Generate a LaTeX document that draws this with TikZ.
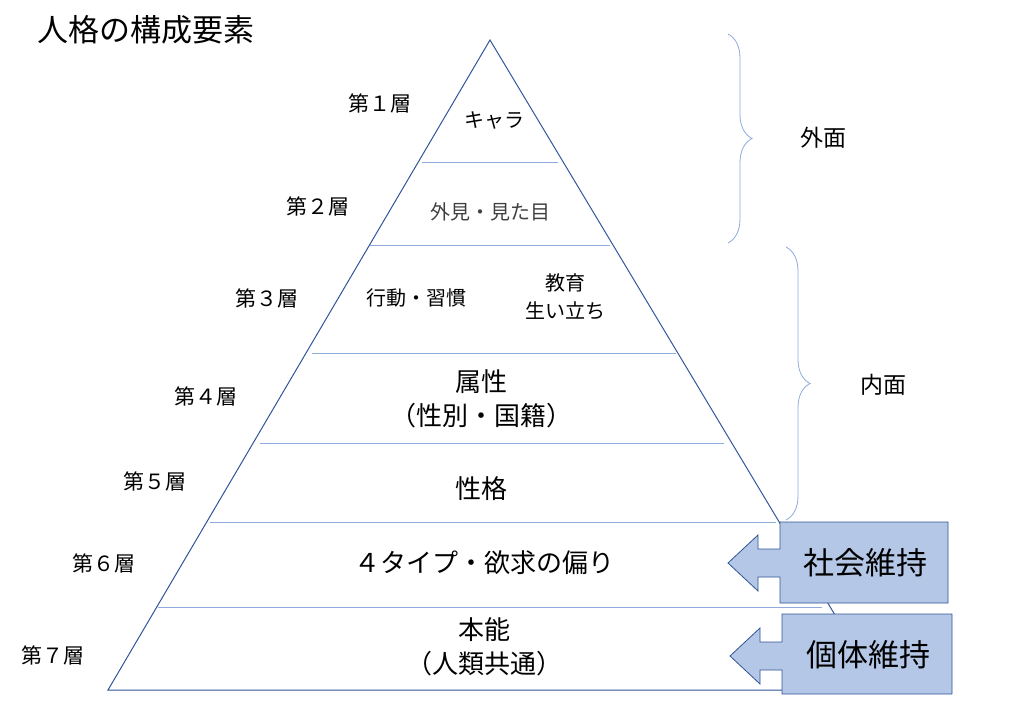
\documentclass[tikz,border=0pt]{standalone}
\usepackage{fontspec}
\setmainfont{Noto Sans CJK JP}
\usetikzlibrary{decorations.pathreplacing}
\definecolor{dk}{HTML}{2F5597}
\definecolor{lt}{HTML}{8FAADC}
\definecolor{fl}{HTML}{B4C7E7}
\tikzset{lay/.style={font=\fontsize{21}{26}\selectfont},
 lab/.style={font=\fontsize{20}{28}\selectfont,align=center},
 txt/.style={font=\fontsize{26}{34}\selectfont,align=center},
 sep/.style={draw=lt,line width=0.8pt},
 brc/.style={draw=lt,line width=0.8pt,decorate,decoration={brace,amplitude=24pt}},
 blk/.style={draw=dk,fill=fl,line width=0.8pt}}
\begin{document}
\begin{tikzpicture}[x=1pt,y=-1pt]
\useasboundingbox (0,0) rectangle (1015,703);
\node[anchor=west,font=\fontsize{31}{36}\selectfont] (title) at (34,30) {人格の構成要素};
\coordinate (a) at (490,40); \coordinate (bl) at (108,690); \coordinate (br) at (880,690);
\draw[sep] (422,162) -- (558,162);
\draw[sep] (370,245) -- (610,245);
\draw[sep] (312,353) -- (676,353);
\draw[sep] (260,443) -- (724,443);
\draw[sep] (210,522) -- (776,522);
\draw[sep] (158,607) -- (822,607);
\draw[dk,line width=1pt] (a) -- (bl) -- (br) -- cycle;
\node[lay] (l1) at (380,103) {第１層};
\node[lay] (l2) at (318,206) {第２層};
\node[lay] (l3) at (267,298) {第３層};
\node[lay] (l4) at (206,396) {第４層};
\node[lay] (l5) at (155,481) {第５層};
\node[lay] (l6) at (104,563) {第６層};
\node[lay] (l7) at (53,655) {第７層};
\node[lab] (t1) at (494,120) {キャラ};
\node[lab,text=black!75] (t2) at (490,212) {外見・見た目};
\node[lab] (t3a) at (416,298) {行動・習慣};
\node[lab] (t3b) at (565,297) {教育\\生い立ち};
\node[txt] (t4) at (481,399) {属性\\（性別・国籍）};
\node[txt] (t5) at (481,489) {性格};
\node[txt] (t6) at (484,563) {４タイプ・欲求の偏り};
\node[txt] (t7) at (484,647) {本能\\（人類共通）};
\draw[brc] (728,34) -- (728,243);
\node[lab,font=\fontsize{23}{28}\selectfont] (o) at (823,138) {外面};
\draw[brc] (786,247) -- (786,520);
\node[lab,font=\fontsize{23}{28}\selectfont] (i) at (883,385) {内面};
\draw[blk] (780,522)--(948,522)--(948,603)--(780,603)--(780,577)--(758,577)--(758,591)--(728,563)--(758,535)--(758,549)--(780,549)--cycle;
\node[font=\fontsize{31}{36}\selectfont] (s1) at (865,563) {社会維持};
\draw[blk] (782,614)--(952,614)--(952,694)--(782,694)--(782,670)--(760,670)--(760,684)--(730,656)--(760,628)--(760,642)--(782,642)--cycle;
\node[font=\fontsize{31}{36}\selectfont] (s2) at (868,655) {個体維持};
\end{tikzpicture}
\end{document}
